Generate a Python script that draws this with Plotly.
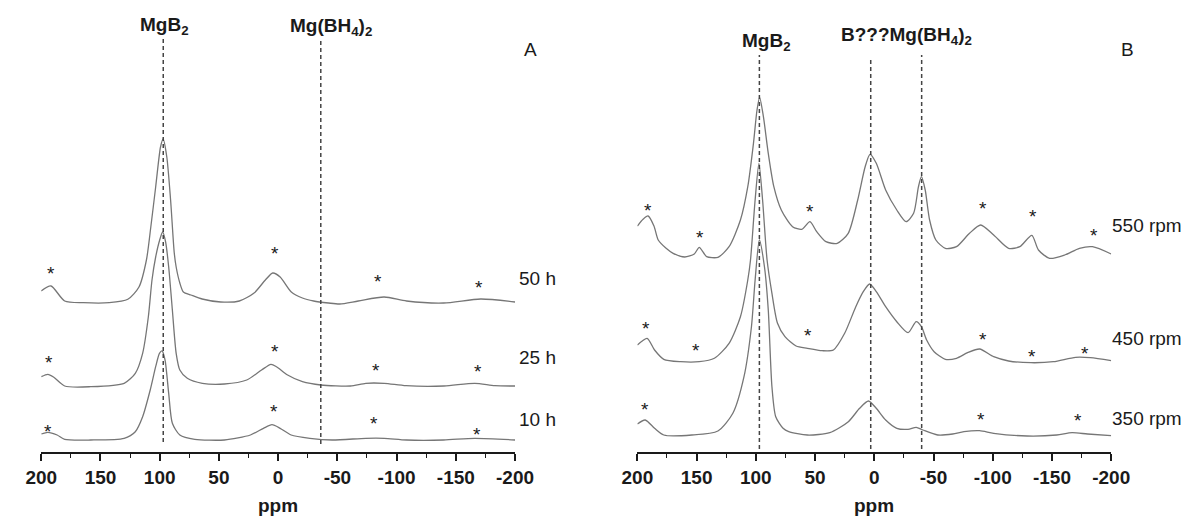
import plotly.graph_objects as go

FONT = "Liberation Sans, Arial, sans-serif"
LINE_GREY = "#767676"
INK = "#1a1a1a"

# Figure geometry (pixels) used to place the free-standing labels
FIG_W, FIG_H, PLOT_H = 1203, 521, 452

# ---------------- Panel A: milling time (stacked intensity, a.u.) ----------------
ppm_50h = [200, 191.8, 180.2, 164.5, 142.6, 126.9, 117.5, 111.2, 107.5, 103.4, 99.3, 97.1,
           94.0, 90.8, 87.7, 86.1, 83.0, 80.0, 73.6, 64.2, 48.5, 32.8, 20.3, 10.8, 4.6,
           -1.7, -11.1, -20.5, -30.0, -42.5, -52.0, -67.6, -89.5, -108.4, -139.7, -171.0, -200]
int_50h = [161, 166, 151, 149.3, 149.3, 152.7, 165, 192, 225, 265, 305, 313,
           295, 252, 199, 185, 169, 160, 157, 153, 150, 151, 159, 172, 179,
           175, 160, 154, 151, 149, 148, 151, 155, 151, 149, 153, 150]

ppm_25h = [200, 194.4, 189.7, 180.2, 158.3, 130.0, 120.6, 114.4, 109.6, 106.5, 103.4, 100.0,
           97.5, 95.0, 92.4, 89.3, 86.1, 83.0, 76.7, 64.0, 45.3, 26.5, 14.0, 6.1, 1.4,
           -8.0, -20.5, -36.0, -61.0, -74.0, -89.5, -108.0, -140.0, -166.0, -183.0, -200]
int_25h = [75.3, 77.7, 75, 66, 65.3, 68.7, 78.7, 98.7, 135, 172, 195, 212,
           220, 210, 185, 142, 98.7, 82, 73.7, 68.7, 68, 72, 82, 87.7, 85.3,
           77, 70.3, 67, 66, 68.7, 68.7, 66.3, 66, 68.7, 66.3, 66]

ppm_10h = [200, 194.4, 186.6, 180.2, 158.3, 130.0, 120.6, 114.4, 108.0, 103.4, 100.2, 98.0,
           95.5, 92.4, 89.3, 83.0, 70.4, 45.3, 23.4, 12.4, 5.2, -1.7, -11.0, -26.8,
           -45.6, -74.0, -89.5, -108.4, -139.7, -166.0, -200]
int_10h = [18, 19.7, 17, 12.7, 12, 13.7, 20.3, 35.3, 62, 85.3, 98.7, 101,
           92, 58.7, 28.7, 17, 12.7, 12, 17, 23.7, 27.3, 23.7, 17, 13.7,
           12, 13.7, 13.7, 12, 12, 13.7, 12]

labels_A = ["50 h", "25 h", "10 h"]
label_A_height = [174, 95, 33]

# spinning side bands (ppm, height) for panel A
sideband_A_ppm = [192.0, 2.4, -84.0, -169.5, 193.7, 3.0, -83.0, -168.6, 194.4, 3.6, -80.8, -168.0]
sideband_A_int = [184, 204, 176, 170, 94.7, 105.3, 86.7, 86, 26, 45.3, 33.7, 22.7]

# reference positions (ppm) for panel A
ref_A_ppm = [97, -36]
ref_A_top = [415, 412]
ref_A_bottom = [10, 8]
ref_A_text = ["<b>MgB<sub>2</sub></b>", "<b>Mg(BH<sub>4</sub>)<sub>2</sub></b>"]
ref_A_text_ppm = [96, -45]
ref_A_text_h = [426, 425]

# ---------------- Panel B: milling speed ----------------
ppm_550 = [200, 195, 191, 186, 182.4, 176, 169.8, 160, 152, 147.8, 144, 141.5, 132, 122.6,
           113, 106.8, 102, 99, 96.8, 93.6, 89.5, 84.8, 78.5, 69, 61.2, 54.3, 48.6, 40.8,
           31.3, 22, 14, 7.7, 3.6, -1.7, -9.6, -19, -26.9, -33.2, -37.3, -39.8, -43, -46.7,
           -52, -60, -69.4, -80.4, -89.8, -100.8, -113.4, -122.9, -133, -138.6, -148,
           -160.7, -173.2, -184.2, -200]
int_550 = [226, 233, 236, 226, 212, 204, 198.7, 195, 198, 204.7, 199, 195.3, 194.7, 205.3,
           232, 265.3, 308.7, 342, 354.7, 335.3, 298.7, 265.3, 242, 225.3, 222.7, 230.3, 220.3, 210.3,
           208.7, 218.7, 252, 285.3, 297.7, 288.7, 262, 242, 230.3, 238.7, 265.3, 275.3, 262, 232,
           212, 203.7, 205.3, 218.7, 227, 217, 203.7, 205.3, 216.7, 202, 193.7,
           197, 203.7, 205.3, 198]

ppm_450 = [200, 191.8, 185.5, 177.7, 163.5, 147.8, 135, 122.6, 113, 106.8, 104.5, 100.6, 97.4,
           94.3, 90.5, 86.4, 81.7, 75.4, 66, 56.5, 44, 34.5, 25, 15.6, 9.3, 3.9, -1.7, -9.6,
           -19, -28.5, -35.4, -39.8, -44.2, -50.5, -60, -69.4, -78.8, -88.9, -100.8, -113.4,
           -132.3, -151.2, -170, -182.5, -200]
int_450 = [107, 113.7, 102, 92.7, 90.3, 90.3, 93.7, 108.7, 135.3, 172, 192, 252, 288.7,
           252, 192, 158.7, 128.7, 115.3, 106, 103.7, 101.3, 102, 118.7, 145.3, 160.3, 168, 160.3, 145.3,
           130.3, 119.3, 130.3, 125.3, 112, 100.3, 92.7, 93.7, 99.3, 103, 95.3, 91,
           89.3, 90.3, 94.7, 94.3, 91.3]

ppm_350 = [200, 193.4, 185.5, 177.7, 154, 132, 119.4, 110, 103.7, 100.6, 97, 92.7, 89.5, 86.4,
           83.2, 77, 72.2, 56.5, 37.6, 21.9, 12.4, 4.9, -1.7, -9.6, -19, -28.5, -35.4, -41,
           -53.6, -66.2, -75.7, -88.9, -100.8, -129, -154, -167, -180, -200]
int_350 = [28, 32, 23.7, 17, 17, 21, 38.7, 75.3, 125.3, 172, 212, 185, 142, 65.3,
           35.3, 23.7, 20.3, 17, 19.3, 30.3, 43.7, 51, 43.7, 32, 23.7, 22.7, 24.7, 22,
           17, 18, 20.3, 21.3, 18.7, 16, 17, 19.3, 18, 16.3]

labels_B = ["550 rpm", "450 rpm", "350 rpm"]
label_B_height = [227, 114, 34]

sideband_B_ppm = [190.9, 147.1, 54.0, -91.4, -134.0, -185.8,
                  192.8, 150.3, 55.9, -91.4, -133.0, -178.0,
                  193.4, -90.5, -171.7]
sideband_B_int = [247, 219.3, 245.3, 248.7, 240.3, 221.3,
                  128.7, 107, 121.3, 118, 100.3, 103.7,
                  47.7, 38, 37]

ref_B_ppm = [97, 3, -40]
ref_B_top = [397, 395, 397]
ref_B_bottom = [3, 3, 3]
ref_B_text = ["<b>MgB<sub>2</sub></b>", "<b>B???Mg(BH<sub>4</sub>)<sub>2</sub></b>"]
ref_B_text_ppm = [91, -27]
ref_B_text_h = [410, 416]

# axis ticks
tick_values = [200, 150, 100, 50, 0, -50, -100, -150, -200]
tick_labels = ["200", "150", "100", "50", "0", "-50", "-100", "-150", "-200"]

# panel axes span (pixels from the left edge)
AX_A = (26, 514)
AX_B = (640, 1128)

fig = go.Figure()


def add_spectrum(x, y, xa, ya):
    fig.add_trace(go.Scatter(
        x=x, y=y, mode="lines", xaxis=xa, yaxis=ya, showlegend=False,
        line=dict(color=LINE_GREY, width=1.3, shape="spline", smoothing=0.7),
        hoverinfo="skip"))


def add_reference(pos, top, bottom, xa, ya):
    for p, t, b in zip(pos, top, bottom):
        fig.add_trace(go.Scatter(
            x=[p, p], y=[b, t], mode="lines", xaxis=xa, yaxis=ya, showlegend=False,
            line=dict(color="#444444", width=1.5, dash="4px,3px"), hoverinfo="skip"))


for x, y in [(ppm_50h, int_50h), (ppm_25h, int_25h), (ppm_10h, int_10h)]:
    add_spectrum(x, y, "x", "y")
for x, y in [(ppm_550, int_550), (ppm_450, int_450), (ppm_350, int_350)]:
    add_spectrum(x, y, "x2", "y2")

add_reference(ref_A_ppm, ref_A_top, ref_A_bottom, "x", "y")
add_reference(ref_B_ppm, ref_B_top, ref_B_bottom, "x2", "y2")

annotations = []


def note(text, x, y, xref, yref, size=19, xanchor="center", yshift=0, bold=False):
    annotations.append(dict(
        text=text, x=x, y=y, xref=xref, yref=yref, showarrow=False,
        xanchor=xanchor, yanchor="middle", yshift=yshift,
        font=dict(family=FONT, size=size, color=INK,
                  weight="bold" if bold else "normal")))


def px_x(px):
    return px / FIG_W


def px_h(h):
    return h / PLOT_H


for px, h in zip(sideband_A_ppm, sideband_A_int):
    note("*", px, h, "x", "y", yshift=-5)
for px, h in zip(sideband_B_ppm, sideband_B_int):
    note("*", px, h, "x2", "y2", yshift=-5)

for t, px, h in zip(ref_A_text, ref_A_text_ppm, ref_A_text_h):
    note(t, px, h, "x", "y")
for t, px, h in zip(ref_B_text, ref_B_text_ppm, ref_B_text_h):
    note(t, px, h, "x2", "y2")

# sample labels just right of each axis end
for t, h in zip(labels_A, label_A_height):
    note(t, px_x(AX_A[1] + 2), px_h(h), "paper", "paper", xanchor="left")
for t, h in zip(labels_B, label_B_height):
    note(t, px_x(AX_B[1] - 1), px_h(h), "paper", "paper", xanchor="left")

note("A", px_x(530), px_h(403), "paper", "paper")
note("B", px_x(1145), px_h(403), "paper", "paper")
note("ppm", px_x((AX_A[0] + AX_A[1]) / 2), px_h(-53), "paper", "paper", bold=True)
note("ppm", px_x((AX_B[0] + AX_B[1]) / 2), px_h(-53), "paper", "paper", bold=True)

xaxis_style = dict(
    range=[200, -200], tickmode="array", tickvals=tick_values, ticktext=tick_labels,
    ticks="outside", ticklen=7, tickwidth=1.5, tickcolor=INK,
    showline=True, linecolor=INK, linewidth=1.5,
    showgrid=False, zeroline=False,
    tickfont=dict(family=FONT, size=19, color=INK, weight="bold"),
    minor=dict(tickmode="linear", tick0=0, dtick=25, ticks="outside",
               ticklen=4, tickwidth=1.2, tickcolor=INK, showgrid=False),
)
yaxis_style = dict(range=[0, PLOT_H], visible=False, showgrid=False, zeroline=False)

fig.update_layout(
    width=FIG_W, height=FIG_H,
    margin=dict(l=0, r=0, t=0, b=FIG_H - PLOT_H),
    paper_bgcolor="white", plot_bgcolor="white",
    xaxis=dict(domain=[AX_A[0] / FIG_W, AX_A[1] / FIG_W], anchor="y", **xaxis_style),
    xaxis2=dict(domain=[AX_B[0] / FIG_W, AX_B[1] / FIG_W], anchor="y2", **xaxis_style),
    yaxis=dict(domain=[0, 1], anchor="x", **yaxis_style),
    yaxis2=dict(domain=[0, 1], anchor="x2", **yaxis_style),
    annotations=annotations,
    showlegend=False,
)

fig.write_html("out.html")
